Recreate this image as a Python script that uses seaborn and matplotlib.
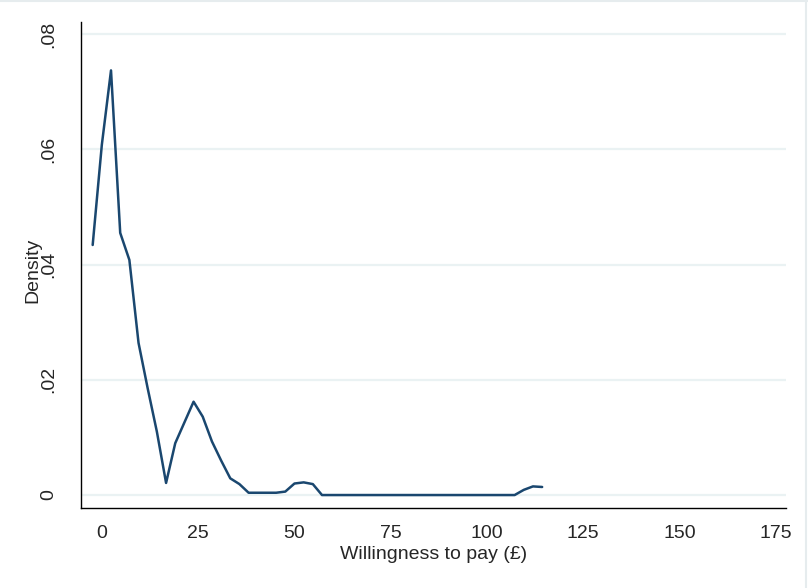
import matplotlib
matplotlib.use("Agg")
import matplotlib.pyplot as plt
import seaborn as sns
import pandas as pd

# kernel density estimate (50-point grid)
wtp = [-2.34, 0.04, 2.42, 4.81, 7.19, 9.57, 11.95, 14.33, 16.72, 19.10,
       21.48, 23.86, 26.24, 28.63, 31.01, 33.39, 35.77, 38.15, 40.54, 42.92,
       45.30, 47.68, 50.06, 52.45, 54.83, 57.21, 59.59, 61.97, 64.36, 66.74,
       69.12, 71.50, 73.88, 76.27, 78.65, 81.03, 83.41, 85.79, 88.18, 90.56,
       92.94, 95.32, 97.70, 100.09, 102.47, 104.85, 107.23, 109.61, 111.99, 114.38]
density = [0.0434, 0.0608, 0.0737, 0.0455, 0.0408, 0.0264, 0.0185, 0.0110, 0.0021, 0.0090,
           0.0126, 0.0162, 0.0136, 0.0093, 0.0060, 0.0029, 0.0019, 0.0004, 0.0004, 0.0004,
           0.0004, 0.0006, 0.0020, 0.0022, 0.0019, 0.0000, 0.0000, 0.0000, 0.0000, 0.0000,
           0.0000, 0.0000, 0.0000, 0.0000, 0.0000, 0.0000, 0.0000, 0.0000, 0.0000, 0.0000,
           0.0000, 0.0000, 0.0000, 0.0000, 0.0000, 0.0000, 0.0000, 0.0009, 0.0015, 0.0014]
xticks = [0, 25, 50, 75, 100, 125, 150, 175]
yticks = [0, 0.02, 0.04, 0.06, 0.08]
ytick_labels = ["0", ".02", ".04", ".06", ".08"]

df = pd.DataFrame({"wtp": wtp, "density": density})

sns.set_style("white")
plt.rcParams["font.family"] = ["Liberation Sans", "DejaVu Sans"]

fig = plt.figure(figsize=(8.08, 5.88), dpi=100)
ax = fig.add_axes([80.7 / 808, 1 - 508.3 / 588, (786 - 80.7) / 808, (508.3 - 22) / 588])

# faint outer frame (top and right edges)
fig.add_artist(plt.Line2D([0, 1], [0.999, 0.999], color="#e6ecee", lw=1.5,
                          transform=fig.transFigure))
fig.add_artist(plt.Line2D([0.998, 0.998], [0, 1], color="#e6ecee", lw=1.5,
                          transform=fig.transFigure))

for y in yticks:
    ax.axhline(y, color="#eaf2f3", lw=1.6, zorder=0)

sns.lineplot(data=df, x="wtp", y="density", color="#1a476f", lw=1.8, ax=ax)

ax.set_xlim(-5.45, 177.7)
ax.set_ylim(-0.0023, 0.0821)
ax.set_xticks(xticks)
ax.set_yticks(yticks)
ax.set_yticklabels(ytick_labels, rotation=90, va="center")
ax.tick_params(axis="x", direction="out", length=5, width=1, color="black",
               labelsize=14, pad=7)
ax.tick_params(axis="y", direction="out", length=7, width=1, color="black",
               labelsize=14, pad=10)
for s in ["top", "right"]:
    ax.spines[s].set_visible(False)
for s in ["left", "bottom"]:
    ax.spines[s].set_color("black")
    ax.spines[s].set_linewidth(1)

ax.set_xlabel("Willingness to pay (£)", fontsize=14, labelpad=3)
ax.set_ylabel("Density", fontsize=14)
ax.yaxis.set_label_coords(-0.0553, 0.49)

fig.savefig("out.png", dpi=100, facecolor="white")
